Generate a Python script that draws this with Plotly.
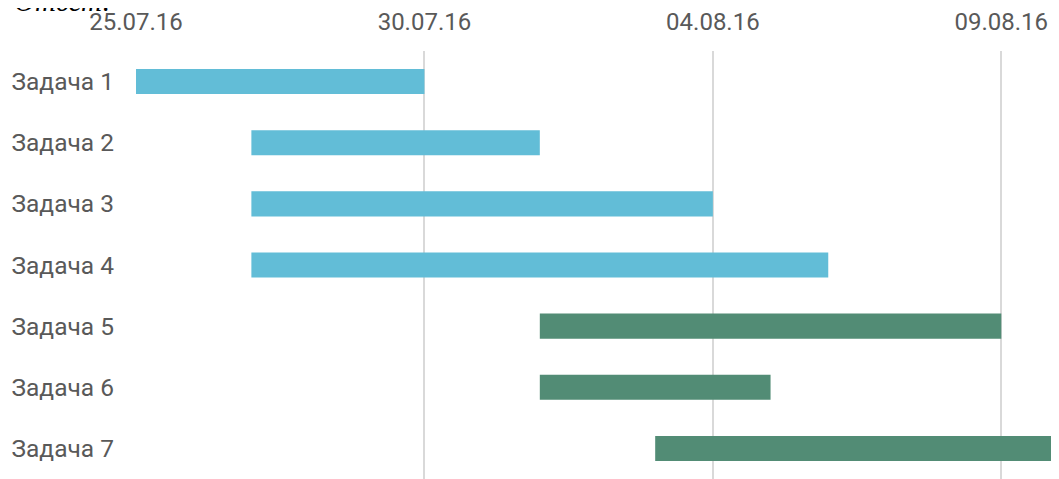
import plotly.graph_objects as go
import pandas as pd

tasks = ["Задача 1", "Задача 2", "Задача 3", "Задача 4", "Задача 5", "Задача 6", "Задача 7"]
starts = ["2016-07-25", "2016-07-27", "2016-07-27", "2016-07-27", "2016-08-01", "2016-08-01", "2016-08-03"]
ends = ["2016-07-30", "2016-08-01", "2016-08-04", "2016-08-06", "2016-08-09", "2016-08-05", "2016-08-10"]
colors = ["#62BDD7", "#62BDD7", "#62BDD7", "#62BDD7", "#528C75", "#528C75", "#528C75"]
tick_vals = ["2016-07-25", "2016-07-30", "2016-08-04", "2016-08-09"]
tick_text = ["25.07.16", "30.07.16", "04.08.16", "09.08.16"]

s = pd.to_datetime(starts)
e = pd.to_datetime(ends)
dur_ms = [(b - a).total_seconds() * 1000 for a, b in zip(s, e)]

fig = go.Figure(go.Bar(
    y=tasks,
    x=dur_ms,
    base=starts,
    orientation="h",
    marker=dict(color=colors, line=dict(width=0)),
    width=0.41,
))

fig.update_layout(
    width=1051, height=471,
    margin=dict(l=128, r=0, t=43, b=0),
    paper_bgcolor="white", plot_bgcolor="white",
    showlegend=False,
    font=dict(family="Roboto", size=24, color="#595959"),
    annotations=[dict(
        text="Ответ:", xref="paper", yref="paper", x=-128/923, y=1,
        xanchor="left", yanchor="bottom", yshift=32, xshift=4,
        showarrow=False,
        font=dict(family="Liberation Serif", size=29, color="black", style="italic"),
    )],
)
fig.update_xaxes(
    type="date", side="top",
    range=["2016-07-25", "2016-08-10"],
    tickvals=tick_vals, ticktext=tick_text,
    showgrid=True, gridcolor="#D9D9D9", gridwidth=1.5,
    zeroline=False, showline=False, ticks="",
    ticklabelstandoff=15,
    tickfont=dict(size=24, color="#595959"),
)
fig.update_yaxes(
    autorange="reversed", showgrid=False, zeroline=False, showline=False,
    ticks="", ticklabelstandoff=21,
    tickfont=dict(size=24.5, color="#595959"),
)

fig.write_html("out.html")
